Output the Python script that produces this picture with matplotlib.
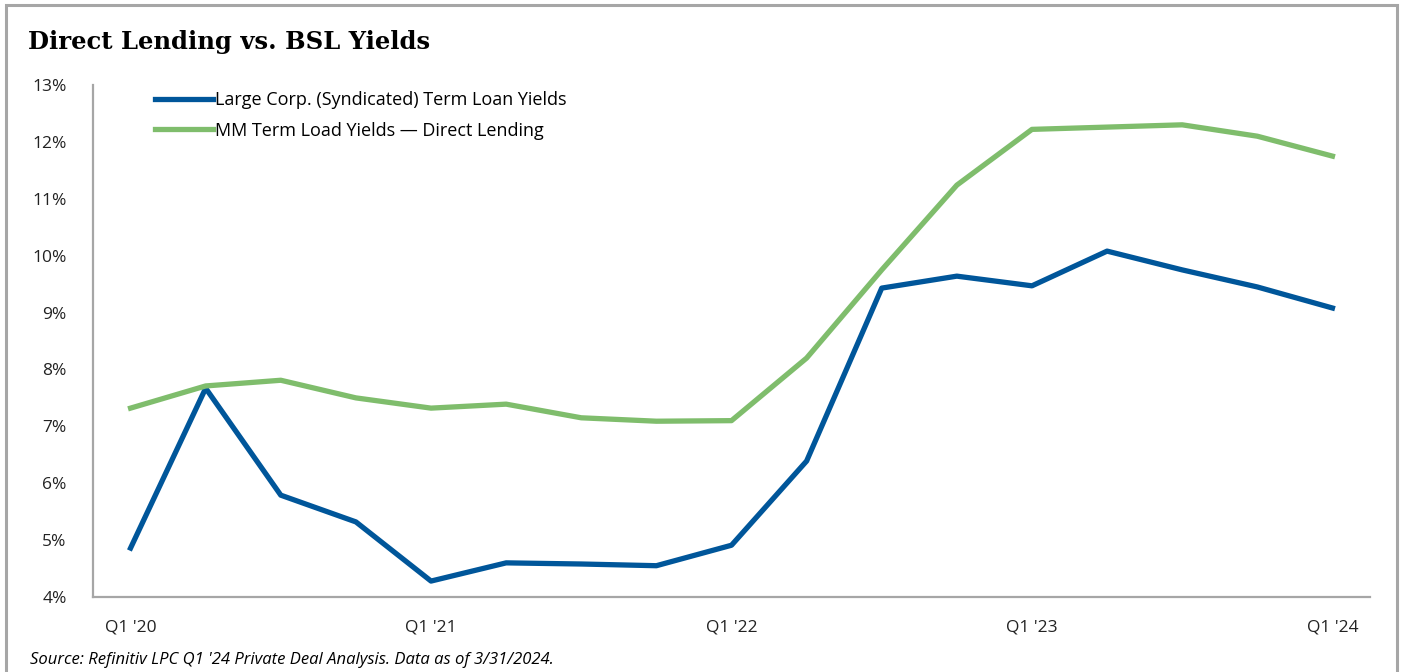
import matplotlib.pyplot as plt
from matplotlib.patches import Rectangle

quarters = ["Q1 '20", "Q2 '20", "Q3 '20", "Q4 '20",
            "Q1 '21", "Q2 '21", "Q3 '21", "Q4 '21",
            "Q1 '22", "Q2 '22", "Q3 '22", "Q4 '22",
            "Q1 '23", "Q2 '23", "Q3 '23", "Q4 '23",
            "Q1 '24"]
bsl_yields = [4.86, 7.67, 5.79, 5.32, 4.28, 4.60, 4.58, 4.55, 4.91,
              6.39, 9.43, 9.64, 9.47, 10.08, 9.75, 9.45, 9.08]
dl_yields = [7.32, 7.71, 7.81, 7.50, 7.32, 7.39, 7.15, 7.09, 7.10,
             8.20, 9.75, 11.24, 12.22, 12.26, 12.30, 12.10, 11.75]
label_idx = [0, 4, 8, 12, 16]

blue = "#00569a"
green = "#7fbd6c"
grey = "#a6a6a6"

plt.rcParams['font.family'] = ['Open Sans', 'DejaVu Sans']

fig = plt.figure(figsize=(14.03, 6.72), dpi=100)
fig.patches.append(Rectangle((6 / 1403, -0.01), 1391 / 1403, 1.0 - 5 / 672 + 0.01,
                             transform=fig.transFigure, fill=False,
                             edgecolor=grey, linewidth=2.2))

ax = fig.add_axes([93 / 1403, 1 - 597 / 672, (1370 - 93) / 1403, (597 - 85) / 672])
x = list(range(len(quarters)))
ax.plot(x, bsl_yields, color=blue, lw=3.8,
        label="Large Corp. (Syndicated) Term Loan Yields")
ax.plot(x, dl_yields, color=green, lw=3.8,
        label="MM Term Load Yields \u2014 Direct Lending")

ax.set_xlim(-0.5, 16.5)
ax.set_ylim(4, 13)
ax.set_yticks(range(4, 14))
ax.set_yticklabels([f"{v}%" for v in range(4, 14)], fontsize=12.5)
ax.set_xticks(label_idx)
ax.set_xticklabels([quarters[i] for i in label_idx], fontsize=12.5)
ax.tick_params(axis='both', length=0, colors='#222222')
ax.tick_params(axis='x', pad=16)
ax.tick_params(axis='y', pad=19)
for s in ['top', 'right']:
    ax.spines[s].set_visible(False)
for s in ['left', 'bottom']:
    ax.spines[s].set_color(grey)
    ax.spines[s].set_linewidth(1.6)

leg = ax.legend(loc='upper left', bbox_to_anchor=(0.036, 1.02), frameon=False,
                fontsize=13, handlelength=3.2, handletextpad=0.12,
                labelspacing=0.7)

fig.text(28 / 1403, 1 - 42 / 672, "Direct Lending vs. BSL Yields",
         family='DejaVu Serif', fontweight='bold', fontsize=17.5,
         va='center', ha='left')
fig.text(30 / 1403, 1 - 660 / 672,
         "Source: Refinitiv LPC Q1 '24 Private Deal Analysis. Data as of 3/31/2024.",
         fontsize=12, style='italic', va='center', ha='left')

fig.savefig("out.png", dpi=100)
